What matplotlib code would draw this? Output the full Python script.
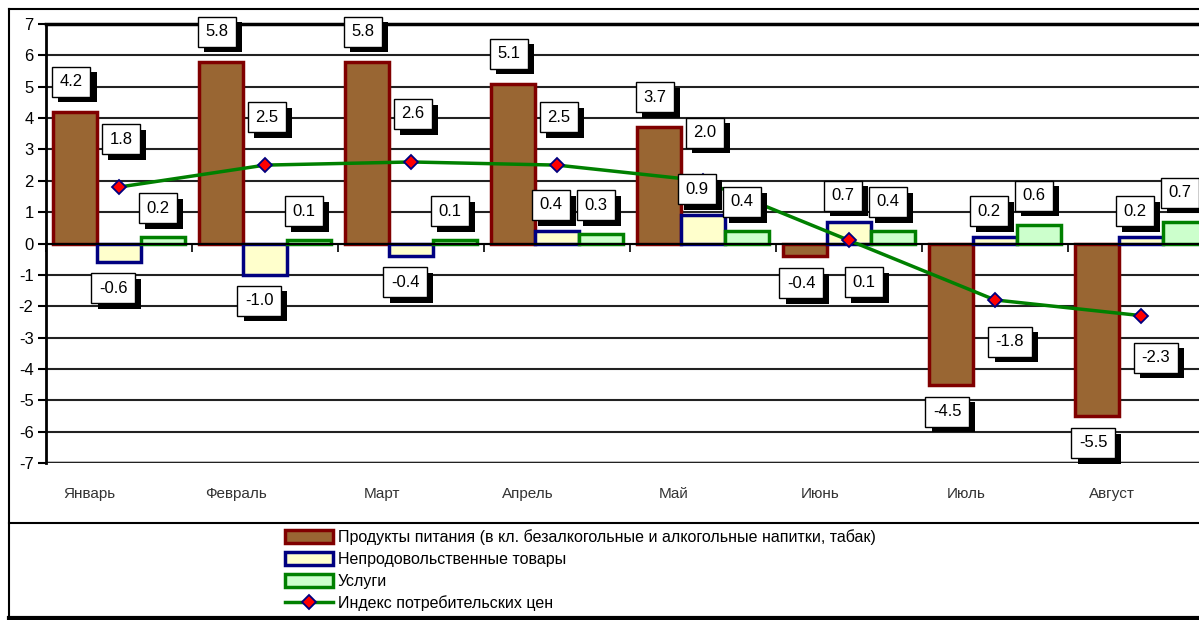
import numpy as np
import matplotlib.pyplot as plt
import matplotlib.patheffects as pe
from matplotlib.lines import Line2D

plt.rcParams['font.family'] = ['Liberation Sans', 'DejaVu Sans']
plt.rcParams['axes.unicode_minus'] = False

# data
months = ['Январь', 'Февраль', 'Март', 'Апрель', 'Май', 'Июнь', 'Июль', 'Август']
food = [4.2, 5.8, 5.8, 5.1, 3.7, -0.4, -4.5, -5.5]
nonfood = [-0.6, -1.0, -0.4, 0.4, 0.9, 0.7, 0.2, 0.2]
services = [0.2, 0.1, 0.1, 0.3, 0.4, 0.4, 0.6, 0.7]
cpi = [1.8, 2.5, 2.6, 2.5, 2.0, 0.1, -1.8, -2.3]

names = ['Продукты питания (в кл. безалкогольные и алкогольные напитки, табак)',
         'Непродовольственные товары',
         'Услуги',
         'Индекс потребительских цен']

W, H = 1199, 620
fig = plt.figure(figsize=(W / 100, H / 100), dpi=100)
# plot area runs past the right edge (the original chart is cropped)
ax = fig.add_axes([46 / W, (H - 463) / H, 1168 / W, 439 / H])

x = np.arange(len(months)) + 0.5
bw = 0.3

b1 = ax.bar(x - bw, food, bw, color='#996633', edgecolor='#800000', linewidth=2.5, zorder=3)
b2 = ax.bar(x, nonfood, bw, color='#FFFFCC', edgecolor='#000080', linewidth=2.5, zorder=3)
b3 = ax.bar(x + bw, services, bw, color='#CCFFCC', edgecolor='#008000', linewidth=2.5, zorder=3)
ln, = ax.plot(x, cpi, color='#008000', lw=2.5, marker='D', markersize=7,
              markerfacecolor='red', markeredgecolor='#000080', markeredgewidth=1.3, zorder=5)

ax.set_xlim(0, 8)
ax.set_ylim(-7, 7)
ax.set_yticks(range(-7, 8))
ax.tick_params(axis='y', length=6, width=1.5, labelsize=12, pad=3)
ax.grid(axis='y', color='#222222', lw=1.5, zorder=0)
ax.axhline(-7, color='black', lw=2.5, zorder=1)

ax.spines['bottom'].set_position(('data', 0))
ax.spines['bottom'].set_linewidth(1.5)
ax.spines['bottom'].set_zorder(4)
ax.set_xticks(np.arange(0, 9))
ax.set_xticklabels([])
ax.tick_params(axis='x', length=6, width=1.2, direction='out')
ax.spines['top'].set_linewidth(2.5)
ax.spines['left'].set_linewidth(2)
ax.spines['right'].set_visible(False)

# month names under the plot
for xi, m in zip(x, months):
    ax.annotate(m, (xi - 0.2, -7), xytext=(0, -31), textcoords='offset pixels',
                ha='center', va='center', fontsize=11, color='#333333')


def label(xv, yv, txt, dx, dy):
    t = ax.annotate(txt, (xv, yv), xytext=(dx, dy), textcoords='offset pixels',
                    ha='center', va='center', fontsize=12, zorder=10,
                    bbox=dict(boxstyle='square,pad=0.45', fc='white', ec='black', lw=1))
    t.get_bbox_patch().set_path_effects(
        [pe.withSimplePatchShadow(offset=(4.5, -4), shadow_rgbFace='black', alpha=1)])


for xi, v in zip(x - bw, food):
    label(xi, v, f'{v:.1f}', -4, 30 if v > 0 else -27)
for xi, v in zip(x, nonfood):
    label(xi, v, f'{v:.1f}', -6, 26 if v > 0 else -26)
for xi, v in zip(x + bw, services):
    label(xi, v, f'{v:.1f}', -5, 29)
for xi, v in zip(x, cpi):
    if v > 0.5:
        label(xi, v, f'{v:.1f}', 2, 48)
    else:
        label(xi, v, f'{v:.1f}', 15, -42)

# outer frame and legend separator
fig.add_artist(Line2D([9 / W, 9 / W], [1 - 9 / H, 2 / H], transform=fig.transFigure, color='black', lw=1.5))
fig.add_artist(Line2D([9 / W, 1], [1 - 9 / H, 1 - 9 / H], transform=fig.transFigure, color='black', lw=1.5))
fig.add_artist(Line2D([9 / W, 1], [1 - 523 / H, 1 - 523 / H], transform=fig.transFigure, color='black', lw=1.5))
fig.add_artist(Line2D([9 / W, 1], [2 / H, 2 / H], transform=fig.transFigure, color='black', lw=3))

leg = fig.legend([b1, b2, b3, ln], names, loc='upper left', bbox_to_anchor=(274 / W, 1 - 518 / H),
                 frameon=False, fontsize=11.5, handlelength=3.0, handleheight=0.9,
                 labelspacing=0.42, handletextpad=0.3, borderpad=0.2)

fig.savefig('out.png', dpi=100)
